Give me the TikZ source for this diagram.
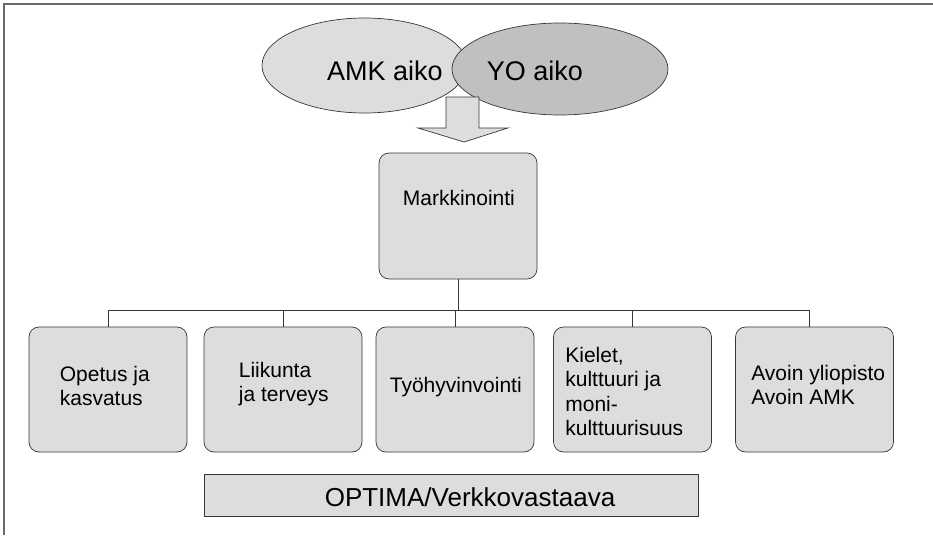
\documentclass[tikz,border=0pt]{standalone}
\usepackage{fontspec}
\setmainfont{Liberation Sans}
\definecolor{boxgray}{RGB}{221, 221, 221}
\definecolor{yogray}{RGB}{192, 192, 192}
\definecolor{linegray}{RGB}{55, 55, 55}
\definecolor{framegray}{RGB}{105, 105, 105}
\usetikzlibrary{shapes, positioning, calc}

\begin{document}
\begin{tikzpicture}[x=1pt, y=-1pt,
  unit/.style={draw=linegray, fill=boxgray, line width=0.7pt, rounded corners=10pt, minimum width=158pt, minimum height=125pt, inner sep=0pt},
  aika/.style={ellipse, draw=linegray, line width=0.7pt, inner sep=0pt},
  boxtext/.style={anchor=north west, inner sep=0pt, align=left, font=\fontsize{21}{24.5}\selectfont},
  bigtext/.style={anchor=base, inner sep=0pt, font=\fontsize{27}{32}\selectfont},
  conn/.style={draw=linegray, line width=0.8pt}
]
  \useasboundingbox (0,0) rectangle (933,535);
  \draw[framegray, line width=1.5pt] (4,535) -- (4,4) -- (933,4);

  % the two ellipses and the arrow
  \node[aika, fill=boxgray, minimum width=205pt, minimum height=95pt] (amk) at (364.5,65.5) {};
  \node[aika, fill=yogray, minimum width=216pt, minimum height=92pt] (yo) at (560,69) {};
  \node[bigtext] (amktxt) at (385,80) {AMK aiko};
  \node[bigtext] (yotxt) at (535,80) {YO aiko};
  \draw[draw=linegray, fill=boxgray, line width=0.7pt]
    (446,97) -- (479,97) -- (479,128) -- (508,128) -- (464,142) -- (418,128) -- (446,128) -- cycle;

  % Markkinointi
  \node[unit, minimum height=126pt] (mark) at (458,216) {};
  \node[boxtext] (marktxt) at ($(mark.north west)+(24,37)$) {Markkinointi};

  % units
  \node[unit] (b1) at (108,389.5) {};
  \node[unit] (b2) at (283,389.5) {};
  \node[unit] (b3) at (455,389.5) {};
  \node[unit] (b4) at (632.5,389.5) {};
  \node[unit] (b5) at (814.5,389.5) {};
  \node[boxtext] (b1txt) at ($(b1.north west)+(31,39)$) {Opetus ja\\kasvatus};
  \node[boxtext] (b2txt) at ($(b2.north west)+(35,35)$) {Liikunta\\ja terveys};
  \node[boxtext] (b3txt) at ($(b3.north west)+(14,50)$) {Työhyvinvointi};
  \node[boxtext] (b4txt) at ($(b4.north west)+(12,20)$) {Kielet,\\kulttuuri ja\\moni-\\kulttuurisuus};
  \node[boxtext] (b5txt) at ($(b5.north west)+(16,38)$) {Avoin yliopisto\\Avoin AMK};

  % connectors
  \coordinate (bus) at (0,310);
  \draw[conn] (mark.south) -- (mark.south |- bus);
  \draw[conn] (b1.north) |- ([xshift=-5pt]b5.north |- bus) -- ([xshift=-5pt]b5.north);
  \draw[conn] (b2.north) -- (b2.north |- bus);
  \draw[conn] (b3.north) -- (b3.north |- bus);
  \draw[conn] (b4.north) -- (b4.north |- bus);

  % OPTIMA
  \node[draw=linegray, fill=boxgray, line width=0.7pt, minimum width=494pt, minimum height=42pt, inner sep=0pt] (optima) at (451,495) {};
  \node[bigtext, font=\fontsize{26}{30}\selectfont] (optimatxt) at (470,506) {OPTIMA/Verkkovastaava};
\end{tikzpicture}
\end{document}
